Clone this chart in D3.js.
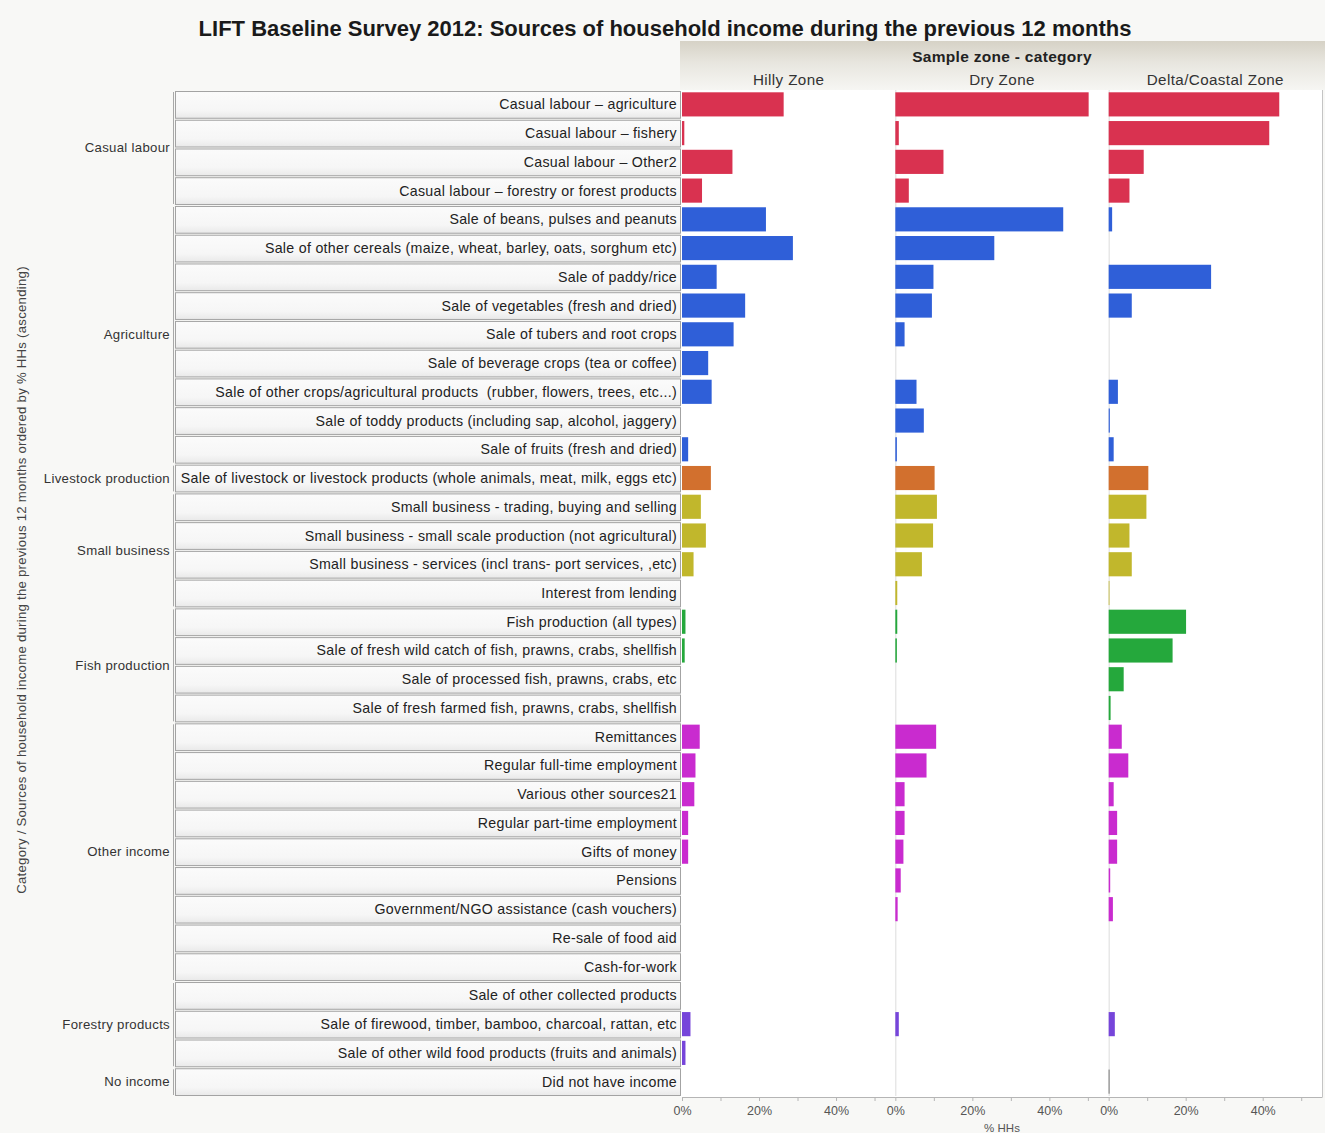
<!DOCTYPE html>
<html>
<head>
<meta charset="utf-8">
<script src="https://cdn.jsdelivr.net/npm/d3@7"></script>
<style>
  html, body { margin: 0; padding: 0; background: #f8f8f6; }
  svg { display: block; font-family: "Liberation Sans", Arial, sans-serif; }
  svg text { white-space: pre; }
</style>
</head>
<body>
<svg id="chart" width="1325" height="1133"></svg>
<script>
// Income sources, in display order
const sources = [
  "Casual labour \u2013 agriculture",
  "Casual labour \u2013 fishery",
  "Casual labour \u2013 Other2",
  "Casual labour \u2013 forestry or forest products",
  "Sale of beans, pulses and peanuts",
  "Sale of other cereals (maize, wheat, barley, oats, sorghum etc)",
  "Sale of paddy/rice",
  "Sale of vegetables (fresh and dried)",
  "Sale of tubers and root crops",
  "Sale of beverage crops (tea or coffee)",
  "Sale of other crops/agricultural products  (rubber, flowers, trees, etc...)",
  "Sale of toddy products (including sap, alcohol, jaggery)",
  "Sale of fruits (fresh and dried)",
  "Sale of livestock or livestock products (whole animals, meat, milk, eggs etc)",
  "Small business - trading, buying and selling",
  "Small business - small scale production (not agricultural)",
  "Small business - services (incl trans- port services, ,etc)",
  "Interest from lending",
  "Fish production (all types)",
  "Sale of fresh wild catch of fish, prawns, crabs, shellfish",
  "Sale of processed fish, prawns, crabs, etc",
  "Sale of fresh farmed fish, prawns, crabs, shellfish",
  "Remittances",
  "Regular full-time employment",
  "Various other sources21",
  "Regular part-time employment",
  "Gifts of money",
  "Pensions",
  "Government/NGO assistance (cash vouchers)",
  "Re-sale of food aid",
  "Cash-for-work",
  "Sale of other collected products",
  "Sale of firewood, timber, bamboo, charcoal, rattan, etc",
  "Sale of other wild food products (fruits and animals)",
  "Did not have income"
];

// Category of each source
const sourceCategory = [
  "Casual labour", "Casual labour", "Casual labour", "Casual labour",
  "Agriculture", "Agriculture", "Agriculture", "Agriculture", "Agriculture",
  "Agriculture", "Agriculture", "Agriculture", "Agriculture",
  "Livestock production",
  "Small business", "Small business", "Small business", "Small business",
  "Fish production", "Fish production", "Fish production", "Fish production",
  "Other income", "Other income", "Other income", "Other income", "Other income",
  "Other income", "Other income", "Other income", "Other income",
  "Forestry products", "Forestry products", "Forestry products",
  "No income"
];

const categories = ["Casual labour", "Agriculture", "Livestock production", "Small business",
  "Fish production", "Other income", "Forestry products", "No income"];

const zones = ["Hilly Zone", "Dry Zone", "Delta/Coastal Zone"];

// % of households per source, one array per zone
const hilly = [26.4, 0.6, 13.1, 5.2, 21.8, 28.8, 9.0, 16.4, 13.4, 6.8, 7.7, 0, 1.6,
  7.5, 4.9, 6.2, 3.0, 0, 0.9, 0.7, 0, 0, 4.6, 3.5, 3.2, 1.6, 1.6, 0, 0, 0, 0, 0, 2.2, 0.9, 0];
const dry = [50.2, 0.9, 12.5, 3.5, 43.6, 25.7, 9.9, 9.5, 2.4, 0, 5.5, 7.4, 0.4,
  10.2, 10.8, 9.8, 6.9, 0.5, 0.5, 0.4, 0, 0, 10.6, 8.1, 2.4, 2.4, 2.1, 1.4, 0.6, 0, 0, 0, 0.9, 0, 0];
const delta = [44.3, 41.7, 9.1, 5.4, 0.9, 0, 26.6, 6.0, 0, 0, 2.4, 0.3, 1.3,
  10.3, 9.8, 5.4, 6.0, 0.2, 20.1, 16.6, 3.9, 0.5, 3.4, 5.1, 1.3, 2.2, 2.2, 0.4, 1.1, 0, 0, 0, 1.6, 0, 0.2];

const tickValues = [0, 10, 20, 30, 40, 50];
const tickLabels = ["0%", "", "20%", "", "40%", ""];

const zoneValues = [hilly, dry, delta];

// Colour per category
const colour = d3.scaleOrdinal()
  .domain(categories)
  .range(["#d93250", "#2f5fd8", "#d2702e", "#c1b72c", "#25a83c", "#c92bcf", "#7645da", "#555555"]);

const svg = d3.select("#chart");
const defs = svg.append("defs");

const headGrad = defs.append("linearGradient").attr("id", "headGrad")
  .attr("x1", 0).attr("y1", 0).attr("x2", 0).attr("y2", 1);
headGrad.append("stop").attr("offset", "0%").attr("stop-color", "#d6d2c6");
headGrad.append("stop").attr("offset", "45%").attr("stop-color", "#e8e6df");
headGrad.append("stop").attr("offset", "100%").attr("stop-color", "#f6f6f3");

const boxGrad = defs.append("linearGradient").attr("id", "boxGrad")
  .attr("x1", 0).attr("y1", 0).attr("x2", 0).attr("y2", 1);
boxGrad.append("stop").attr("offset", "0%").attr("stop-color", "#fbfbfb");
boxGrad.append("stop").attr("offset", "70%").attr("stop-color", "#f6f6f6");
boxGrad.append("stop").attr("offset", "100%").attr("stop-color", "#e9e9e9");

// Layout
const plotTop = 90, plotBottom = 1096;
const labelLeft = 175, labelRight = 680;
const panelLeft = 682, panelRight = 1322;

const yRow = d3.scaleBand().domain(sources).range([plotTop, plotBottom]).padding(0);
const yBar = d3.scaleBand().domain(sources).range([plotTop, plotBottom]).paddingInner(0.16).paddingOuter(0.08);
const xPanel = d3.scaleBand().domain(zones).range([panelLeft, panelRight]).padding(0);
const xVal = d3.scaleLinear().domain([0, 55.4]).range([0, xPanel.bandwidth()]);

// Title
svg.append("text")
  .attr("x", 665).attr("y", 35.5)
  .attr("text-anchor", "middle")
  .attr("font-size", 22).attr("font-weight", "bold").attr("fill", "#1a1a1a")
  .text("LIFT Baseline Survey 2012: Sources of household income during the previous 12 months");

// Column header band
svg.append("rect")
  .attr("x", panelLeft - 2).attr("y", 41)
  .attr("width", 1325 - panelLeft + 2).attr("height", plotTop - 41)
  .attr("fill", "url(#headGrad)");
svg.append("text")
  .attr("x", xPanel("Dry Zone") + xPanel.bandwidth() / 2).attr("y", 61.5)
  .attr("text-anchor", "middle").attr("font-size", 15.5).attr("letter-spacing", 0.3)
  .attr("font-weight", "bold").attr("fill", "#222")
  .text("Sample zone - category");
svg.selectAll("text.zone").data(zones).join("text")
  .attr("class", "zone")
  .attr("x", d => xPanel(d) + xPanel.bandwidth() / 2).attr("y", 84.5)
  .attr("text-anchor", "middle").attr("font-size", 15.2).attr("letter-spacing", 0.4).attr("fill", "#333")
  .text(d => d);

// Plot area
svg.append("rect")
  .attr("x", panelLeft - 2).attr("y", plotTop)
  .attr("width", panelRight - panelLeft + 2).attr("height", plotBottom - plotTop + 1)
  .attr("fill", "#ffffff");

// Source label cells
svg.selectAll("rect.cell").data(sources).join("rect")
  .attr("class", "cell")
  .attr("x", labelLeft + 0.5).attr("y", d => yRow(d) + 1.5)
  .attr("width", labelRight - labelLeft).attr("height", yRow.bandwidth() - 2)
  .attr("fill", "url(#boxGrad)").attr("stroke", "#a3a3a3").attr("stroke-width", 1);
svg.selectAll("text.src").data(sources).join("text")
  .attr("class", "src")
  .attr("x", labelRight - 3).attr("y", d => yRow(d) + yRow.bandwidth() / 2 + 5)
  .attr("text-anchor", "end").attr("font-size", 14.2).attr("letter-spacing", 0.3).attr("fill", "#222")
  .text(d => d);

// Category labels and their brackets
const groupSpans = categories.map(c => {
  const rows = sources.filter((s, i) => sourceCategory[i] === c);
  return { cat: c, y0: yRow(rows[0]), y1: yRow(rows[rows.length - 1]) + yRow.bandwidth() };
});
svg.selectAll("line.grp").data(groupSpans).join("line")
  .attr("class", "grp")
  .attr("x1", labelLeft - 1.5).attr("x2", labelLeft - 1.5)
  .attr("y1", d => d.y0 + 2).attr("y2", d => d.y1 - 1)
  .attr("stroke", "#a8a8a8").attr("stroke-width", 1);
svg.selectAll("text.cat").data(groupSpans).join("text")
  .attr("class", "cat")
  .attr("x", labelLeft - 5).attr("y", d => (d.y0 + d.y1) / 2 + 4.7)
  .attr("text-anchor", "end").attr("font-size", 13.2).attr("letter-spacing", 0.3).attr("fill", "#333")
  .text(d => d.cat);

// Vertical axis title
svg.append("text")
  .attr("transform", "translate(26,580) rotate(-90)")
  .attr("text-anchor", "middle").attr("font-size", 13.2).attr("letter-spacing", 0.25).attr("fill", "#444")
  .text("Category / Sources of household income during the previous 12 months ordered by % HHs (ascending)");

// Panels
zones.forEach((z, zi) => {
  const g = svg.append("g").attr("transform", `translate(${xPanel(z)},0)`);
  const vals = zoneValues[zi];

  if (zi > 0) {
    g.append("line")
      .attr("x1", xVal(0) + 0.5).attr("x2", xVal(0) + 0.5)
      .attr("y1", plotTop).attr("y2", plotBottom)
      .attr("stroke", "#dcdcdc");
  }

  g.selectAll("rect.bar").data(sources).join("rect")
    .attr("class", "bar")
    .attr("x", xVal(0))
    .attr("y", d => yBar(d))
    .attr("width", (d, i) => xVal(vals[i]) - xVal(0))
    .attr("height", yBar.bandwidth())
    .attr("fill", (d, i) => colour(sourceCategory[i]));

  const axis = d3.axisBottom(xVal)
    .tickValues(tickValues)
    .tickFormat((d, i) => tickLabels[i])
    .tickSize(4)
    .tickSizeOuter(0);
  const ga = g.append("g").attr("transform", `translate(0,${plotBottom + 1})`).call(axis);
  ga.select(".domain").attr("stroke", "#b5b5b5");
  ga.selectAll(".tick line").attr("stroke", "#b5b5b5");
  ga.selectAll(".tick text").attr("font-size", 12.5).attr("fill", "#555")
    .attr("font-family", "\"Liberation Sans\", Arial, sans-serif").attr("dy", "0.9em");
});

// Right frame edge
svg.append("line")
  .attr("x1", panelRight + 0.5).attr("x2", panelRight + 0.5)
  .attr("y1", plotTop).attr("y2", plotBottom + 1)
  .attr("stroke", "#c4c4c4");

// Horizontal axis title
svg.append("text")
  .attr("x", xPanel("Dry Zone") + xPanel.bandwidth() / 2).attr("y", 1132)
  .attr("text-anchor", "middle").attr("font-size", 11.5).attr("fill", "#555")
  .text("% HHs");
</script>
</body>
</html>
